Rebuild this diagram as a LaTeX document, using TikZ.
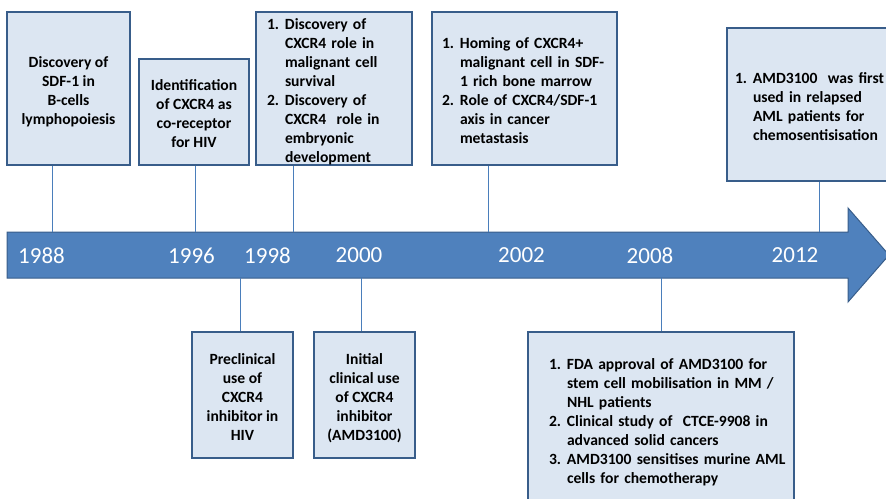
\documentclass[tikz,border=0pt]{standalone}
\usepackage{fontspec}
\setmainfont{Carlito}
\usetikzlibrary{positioning}
\definecolor{boxfill}{HTML}{DCE6F2}
\definecolor{boxline}{HTML}{385D8A}
\definecolor{axisblue}{HTML}{4F81BD}
\definecolor{linkblue}{HTML}{4A7EBB}
\newcommand{\ctr}[1]{\raisebox{-3.5pt}[\height][\depth]{\begin{tabular}{@{}c@{}}#1\end{tabular}}}
\newcommand{\lst}[1]{\raisebox{-3.5pt}[\height][\depth]{\begin{tabular}{@{}p{18pt}@{}l@{}}#1\end{tabular}}}

\begin{document}
\begin{tikzpicture}[x=1pt, y=-1pt,
	ev/.style={draw=boxline, line width=2pt, fill=boxfill, inner sep=0pt, font=\bfseries\fontsize{15.6}{19}\selectfont, align=center},
	evl/.style={ev, align=left},
	yr/.style={text=white, inner sep=0pt, font=\fontsize{23}{26}\selectfont},
	link/.style={draw=linkblue, line width=1pt}]
	\useasboundingbox (0,0) rectangle (886,498);
	\clip (0,0) rectangle (886,498);
	% time axis
	\path[draw=boxline, fill=axisblue, line width=1pt] (7,232) -- (848,232) -- (848,208) -- (889,255) -- (848,302) -- (848,278) -- (7,278) -- cycle;
	\coordinate (a88) at (52,232); \coordinate (a96) at (195,232); \coordinate (a98) at (293,232);
	\coordinate (a02) at (488,232); \coordinate (a12) at (819,232);
	\coordinate (c98) at (240,278); \coordinate (c00) at (361,278); \coordinate (c08) at (661,278);
	\node[yr] (y88) at (41.5,255.5) {1988};
	\node[yr] (y96) at (191.5,255.5) {1996};
	\node[yr] (y98) at (267.5,255.5) {1998};
	\node[yr] (y00) at (359,255.5) {2000};
	\node[yr] (y02) at (521.5,255.5) {2002};
	\node[yr] (y08) at (650,255.5) {2008};
	\node[yr] (y12) at (795,255.5) {2012};
	% events above
	\node[ev, minimum width=123, minimum height=153] (b88) at (68.5,88.5) {\ctr{Discovery of\\SDF-1 in\\B-cells\\lymphopoiesis}};
	\node[ev, minimum width=110, minimum height=106] (b96) at (194,112) {\ctr{Identification\\of CXCR4 as\\co-receptor\\for HIV}};
	\node[evl, text width=134, inner xsep=11, minimum height=153] (b98) at (334,88.5) {\lst{1. & Discovery of\\ & CXCR4 role in\\ & malignant cell\\ & survival\\ 2. & Discovery of\\ & CXCR4\ \ role in\\ & embryonic\\ & development}};
	\node[evl, text width=165, inner xsep=10, minimum height=153] (b02) at (524.5,88.5) {\lst{1. & Homing of CXCR4+\\ & malignant cell in SDF-\\ & 1 rich bone marrow\\ 2. & Role of CXCR4/SDF-1\\ & axis in cancer\\ & metastasis}};
	\node[evl, text width=154, inner xsep=8, minimum height=153] (b12) at (812,104.5) {\lst{1. & AMD3100\ \ was first\\ & used in relapsed\\ & AML patients for\\ & chemosentisisation}};
	% events below
	\node[ev, minimum width=101, minimum height=126] (l98) at (242.5,395) {\ctr{Preclinical\\use of\\CXCR4\\inhibitor in\\HIV}};
	\node[ev, minimum width=101, minimum height=126, right=19pt of l98] (l00) {\ctr{Initial\\clinical use\\of CXCR4\\inhibitor\\(AMD3100)}};
	\node[evl, text width=224, inner xsep=21, minimum height=174] (l08) at (661,419) {\lst{1. & FDA approval of AMD3100 for\\ & stem cell mobilisation in MM /\\ & NHL patients\\ 2. & Clinical study of\ \ CTCE-9908 in\\ & advanced solid cancers\\ 3. & AMD3100 sensitises murine AML\\ & cells for chemotherapy}};
	% connectors
	\draw[link] (b88.south -| a88) -- (a88);
	\draw[link] (b96.south -| a96) -- (a96);
	\draw[link] (b98.south -| a98) -- (a98);
	\draw[link] (b02.south -| a02) -- (a02);
	\draw[link] (b12.south -| a12) -- (a12);
	\draw[link] (c98) -- (l98.north -| c98);
	\draw[link] (c00) -- (l00.north -| c00);
	\draw[link] (c08) -- (l08.north -| c08);
\end{tikzpicture}
\end{document}
